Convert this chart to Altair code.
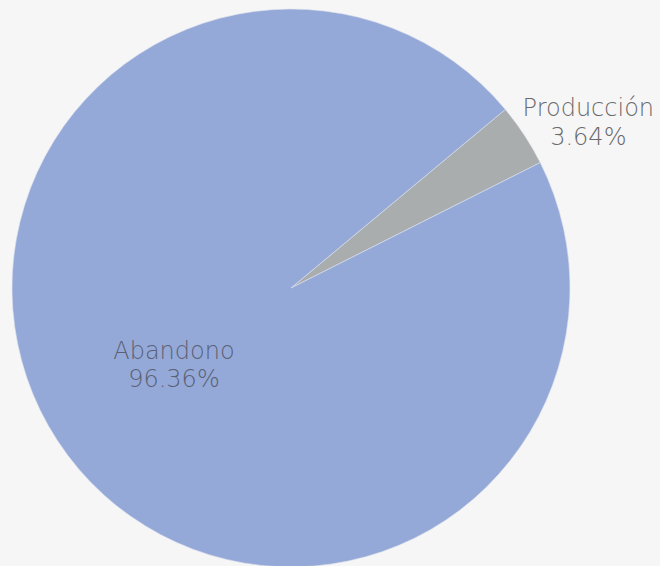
import altair as alt
import pandas as pd

labels = ["Producción", "Abandono"]
values = [3.64, 96.36]
colors = ["#a9adad", "#95a9d9"]

df = pd.DataFrame({"label": labels, "value": values, "order": [0, 1]})

start = 0.876
theta_scale = alt.Scale(range=[start, start + 2 * 3.14159265])

base = alt.Chart(df).transform_calculate(
    txt="datum.label + '\\n' + format(datum.value, '.2f') + '%'"
)

cx, cy = 291, 288

theta_enc = alt.Theta("value:Q", stack=True, scale=theta_scale)

pie = base.mark_arc(outerRadius=279, stroke="#dfe3ec", strokeWidth=0.6).encode(
    theta=theta_enc,
    order=alt.Order("order:Q"),
    color=alt.Color("label:N", scale=alt.Scale(domain=labels, range=colors), legend=None),
    x=alt.value(cx),
    y=alt.value(cy),
)

txt_in = base.transform_calculate(
    t2="datum.label == 'Abandono' ? datum.txt : ''"
).mark_text(
    radius=140, dy=-13, font="DejaVu Sans", fontSize=24, fontWeight=200,
    lineBreak="\n", lineHeight=28, color="#5a6174", align="center", baseline="middle"
).encode(
    theta=theta_enc,
    order=alt.Order("order:Q"),
    text="t2:N",
    x=alt.value(cx),
    y=alt.value(cy),
)

txt_out = base.transform_calculate(
    t2="datum.label == 'Producción' ? datum.txt : ''"
).mark_text(
    radius=340, dx=13, dy=7, font="DejaVu Sans", fontSize=24, fontWeight=200,
    lineBreak="\n", lineHeight=29, color="#6a6a6a", align="center", baseline="middle"
).encode(
    theta=theta_enc,
    order=alt.Order("order:Q"),
    text="t2:N",
    x=alt.value(cx),
    y=alt.value(cy),
)

chart = alt.layer(pie, txt_in, txt_out).properties(
    width=660, height=566, background="#f6f6f6", padding=0,
    autosize=alt.AutoSizeParams(type="none"),
).configure_view(stroke=None)

chart.save("out.html", embed_options={"renderer": "svg", "actions": False})
